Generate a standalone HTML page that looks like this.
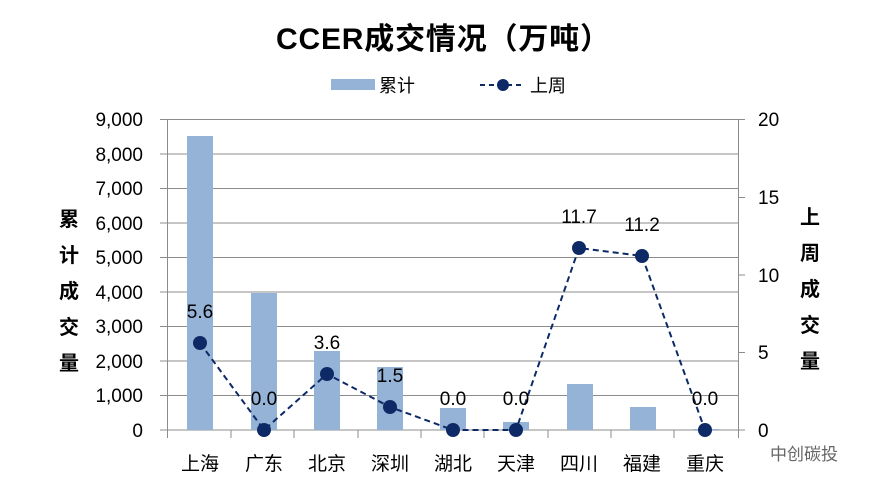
<!DOCTYPE html>
<html><head><meta charset="utf-8"><style>
body{margin:0;background:#fff}
svg text{font-family:"Liberation Sans","Noto Sans CJK SC",sans-serif}
</style></head><body>
<svg width="887" height="491" xmlns="http://www.w3.org/2000/svg">
<rect width="887" height="491" fill="#fff"/>
<text x="443" y="49" text-anchor="middle" font-size="30" font-weight="bold" fill="#000" textLength="334">CCER成交情况（万吨）</text>
<rect x="331" y="79" width="44" height="11" fill="#95b3d7"/>
<text x="379" y="92" font-size="18" fill="#000">累计</text>
<line x1="480" y1="85" x2="525" y2="85" stroke="#0d2a66" stroke-width="2" stroke-dasharray="5,4"/>
<circle cx="503" cy="85" r="6" fill="#0d2a66"/>
<text x="530" y="92" font-size="18" fill="#000">上周</text>
<g stroke="#8c8c8c" stroke-width="1">
<line x1="160" y1="119.5" x2="745" y2="119.5"/>
<line x1="160" y1="154" x2="738" y2="154"/>
<line x1="160" y1="188.5" x2="738" y2="188.5"/>
<line x1="160" y1="223" x2="738" y2="223"/>
<line x1="160" y1="257.5" x2="738" y2="257.5"/>
<line x1="160" y1="292" x2="738" y2="292"/>
<line x1="160" y1="326.5" x2="738" y2="326.5"/>
<line x1="160" y1="361" x2="738" y2="361"/>
<line x1="160" y1="395.5" x2="738" y2="395.5"/>
<line x1="160" y1="430" x2="745" y2="430"/>
<line x1="738" y1="197.5" x2="745" y2="197.5"/>
<line x1="738" y1="275" x2="745" y2="275"/>
<line x1="738" y1="352.5" x2="745" y2="352.5"/>
<line x1="167.5" y1="119" x2="167.5" y2="438"/>
<line x1="738.5" y1="119" x2="738.5" y2="438"/>
<line x1="231" y1="430" x2="231" y2="438"/><line x1="294" y1="430" x2="294" y2="438"/>
<line x1="358" y1="430" x2="358" y2="438"/><line x1="421" y1="430" x2="421" y2="438"/>
<line x1="484" y1="430" x2="484" y2="438"/><line x1="548" y1="430" x2="548" y2="438"/>
<line x1="611" y1="430" x2="611" y2="438"/><line x1="674" y1="430" x2="674" y2="438"/>
</g>
<g fill="#95b3d7">
<rect x="187" y="136" width="26" height="294"/>
<rect x="251" y="293" width="26" height="137"/>
<rect x="314" y="351" width="26" height="79"/>
<rect x="377" y="367" width="26" height="63"/>
<rect x="440" y="408" width="26" height="22"/>
<rect x="503" y="422" width="26" height="8"/>
<rect x="567" y="384" width="26" height="46"/>
<rect x="630" y="407" width="26" height="23"/>
<rect x="693" y="429" width="26" height="1"/>
</g>
<polyline points="200,343 264,430 327,374 390,407 453,430 516,430 579,248 642,256 705,430" fill="none" stroke="#0d2a66" stroke-width="2" stroke-dasharray="6,4"/>
<g fill="#0d2a66">
<circle cx="200" cy="343" r="7"/><circle cx="264" cy="430" r="7"/><circle cx="327" cy="374" r="7"/>
<circle cx="390" cy="407" r="7"/><circle cx="453" cy="430" r="7"/><circle cx="516" cy="430" r="7"/>
<circle cx="579" cy="248" r="7"/><circle cx="642" cy="256" r="7"/><circle cx="705" cy="430" r="7"/>
</g>
<g font-size="19" fill="#000" text-anchor="middle">
<text x="200" y="318">5.6</text><text x="264" y="405">0.0</text><text x="327" y="349">3.6</text>
<text x="390" y="382">1.5</text><text x="453" y="405">0.0</text><text x="516" y="405">0.0</text>
<text x="579" y="223">11.7</text><text x="642" y="231">11.2</text><text x="705" y="405">0.0</text>
</g>
<g font-size="19" fill="#000" text-anchor="end">
<text x="143" y="126">9,000</text><text x="143" y="161">8,000</text><text x="143" y="195">7,000</text>
<text x="143" y="230">6,000</text><text x="143" y="264">5,000</text><text x="143" y="299">4,000</text>
<text x="143" y="333">3,000</text><text x="143" y="368">2,000</text><text x="143" y="402">1,000</text>
<text x="143" y="437">0</text>
</g>
<g font-size="19" fill="#000" text-anchor="start">
<text x="758" y="126">20</text><text x="758" y="204">15</text><text x="758" y="282">10</text>
<text x="758" y="359">5</text><text x="758" y="437">0</text>
</g>
<g font-size="19" fill="#000" text-anchor="middle">
<text x="200" y="470">上海</text><text x="264" y="470">广东</text><text x="327" y="470">北京</text>
<text x="390" y="470">深圳</text><text x="453" y="470">湖北</text><text x="516" y="470">天津</text>
<text x="579" y="470">四川</text><text x="642" y="470">福建</text><text x="705" y="470">重庆</text>
</g>
<g font-size="20" font-weight="bold" fill="#000" text-anchor="middle">
<text x="69" y="226">累</text><text x="69" y="262">计</text><text x="69" y="298">成</text><text x="69" y="334">交</text><text x="69" y="370">量</text>
<text x="810" y="224">上</text><text x="810" y="260">周</text><text x="810" y="296">成</text><text x="810" y="332">交</text><text x="810" y="368">量</text>
</g>
<text x="770" y="460" font-size="17" fill="#666">中创碳投</text>
</svg>
</body></html>
